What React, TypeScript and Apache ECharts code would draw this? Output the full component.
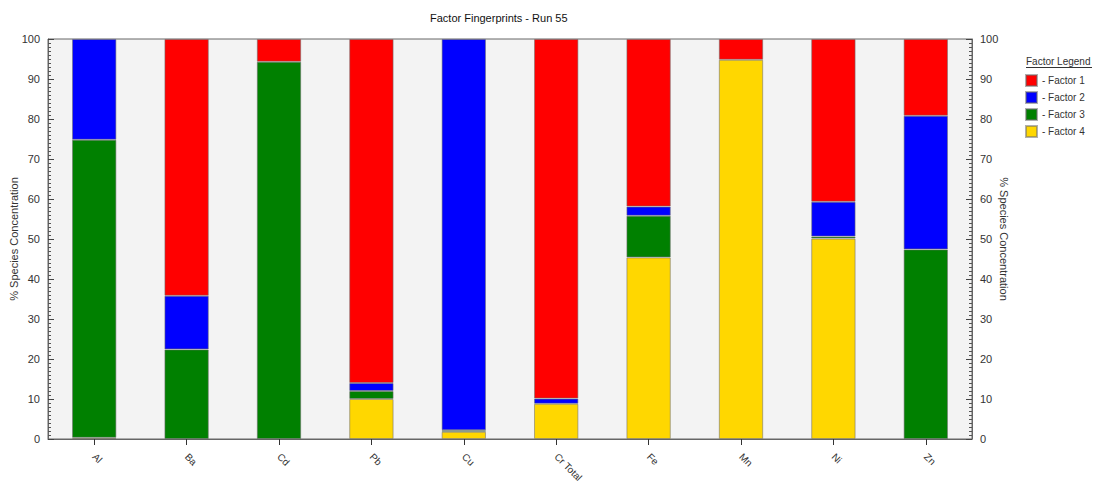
import React, { useEffect, useRef } from "react";
import * as echarts from "echarts";

const categories = ["Al", "Ba", "Cd", "Pb", "Cu", "Cr Total", "Fe", "Mn", "Ni", "Zn"];
const factor1 = [0, 64.2, 5.7, 86, 0, 89.9, 41.9, 5.2, 40.7, 19.2];
const factor2 = [25.2, 13.4, 0, 2, 97.8, 1.3, 2.3, 0, 8.7, 33.4];
const factor3 = [74.5, 22.4, 94.3, 2, 0.4, 0, 10.4, 0, 0.5, 47.4];
const factor4 = [0.3, 0, 0, 10, 1.8, 8.8, 45.4, 94.8, 50.1, 0];
const seriesNames = ["Factor 1", "Factor 2", "Factor 3", "Factor 4"];
const seriesColors = ["#ff0000", "#0000ff", "#008000", "#ffd700"];

const FONT = "Liberation Sans, Arial, sans-serif";

export default function App() {
  const ref = useRef<HTMLDivElement>(null);
  useEffect(() => {
    const chart = echarts.init(ref.current!, null, { renderer: "svg" });
    const values = [factor1, factor2, factor3, factor4];
    const order = [3, 2, 1, 0];
    const yAxisCommon = {
      type: "value",
      min: 0,
      max: 100,
      interval: 10,
      nameLocation: "middle",
      nameMoveOverlap: false,
      nameTextStyle: { fontSize: 11, color: "#333", fontFamily: FONT },
      axisLine: { show: true, lineStyle: { color: "#666" } },
      axisTick: { show: true, inside: true, length: 6, lineStyle: { color: "#444" } },
      minorTick: { show: true, splitNumber: 10, length: 3, lineStyle: { color: "#555" } },
      splitLine: { show: false },
      axisLabel: { fontSize: 11, color: "#333", fontFamily: FONT, margin: 8 },
    };
    chart.setOption({
      animation: false,
      textStyle: { fontFamily: FONT },
      grid: {
        left: 48,
        right: 121,
        top: 39,
        bottom: 42,
        outerBoundsMode: "none",
        containLabel: false,
        show: true,
        backgroundColor: "#f3f3f3",
        borderColor: "#666",
        borderWidth: 1,
      },
      legend: {
        data: seriesNames,
        orient: "vertical",
        left: 1020,
        top: 69,
        itemWidth: 11,
        itemHeight: 11,
        itemGap: 4,
        icon: "rect",
        formatter: (n: string) => "- " + n,
        textStyle: { fontSize: 10, color: "#333", fontFamily: FONT },
      },
      graphic: [
        {
          type: "text",
          left: 510 - 80,
          top: 12,
          style: {
            text: "Factor Fingerprints - Run 55",
            x: 80,
            textAlign: "center",
            fontSize: 11,
            fill: "#111",
            fontFamily: FONT,
          },
        },
        {
          type: "text",
          left: 1026,
          top: 56,
          style: { text: "Factor Legend", fontSize: 10, fill: "#333", fontFamily: FONT },
        },
        {
          type: "line",
          shape: { x1: 1026, y1: 67.5, x2: 1092, y2: 67.5 },
          style: { stroke: "#333", lineWidth: 1 },
        },
      ],
      xAxis: {
        type: "category",
        data: categories,
        axisLine: { lineStyle: { color: "#666" } },
        axisTick: { show: true, alignWithLabel: true, length: 6, lineStyle: { color: "#333" } },
        axisLabel: {
          rotate: -45,
          fontSize: 10,
          color: "#333",
          fontFamily: FONT,
          margin: 16,
          interval: 0,
        },
      },
      yAxis: [
        { ...yAxisCommon, position: "left", name: "% Species Concentration", nameGap: 29, nameRotate: 90 },
        { ...yAxisCommon, position: "right", name: "% Species Concentration", nameGap: 26, nameRotate: -90 },
      ],
      series: order.map((i) => ({
        name: seriesNames[i],
        type: "bar",
        stack: "total",
        barWidth: "48%",
        data: values[i].map((v) => (v === 0 ? "-" : v)),
        itemStyle: {
          color: seriesColors[i],
          borderColor: "rgba(110,110,110,0.55)",
          borderWidth: 1,
        },
      })),
    });
    return () => chart.dispose();
  }, []);
  return (
    <div
      ref={ref}
      style={{ position: "fixed", left: 0, top: 0, width: 1093, height: 481, background: "#fff" }}
    />
  );
}
